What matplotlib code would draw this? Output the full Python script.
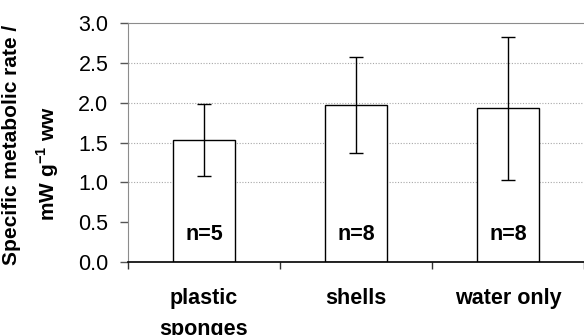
import numpy as np
import matplotlib.pyplot as plt

plt.rcParams['font.family'] = ['Liberation Sans', 'DejaVu Sans']
plt.rcParams['mathtext.fontset'] = 'custom'
plt.rcParams['mathtext.rm'] = 'Liberation Sans'
plt.rcParams['mathtext.bf'] = 'Liberation Sans:bold'

# data
categories = ["plastic\nsponges", "shells", "water only"]
rates = [1.53, 1.97, 1.93]
sd = [0.45, 0.60, 0.90]
n_labels = ["n=5", "n=8", "n=8"]
grid_levels = [1.0, 1.5, 2.0, 2.5]

fig = plt.figure(figsize=(5.84, 3.35), dpi=100)
ax = fig.add_axes([0.219, 0.218, 0.781, 0.713])

x = np.arange(len(categories))
for g in grid_levels:
    ax.axhline(g, color='#a8a8a8', lw=0.8, ls=(0, (1, 1.5)), zorder=0)

ax.bar(x, rates, width=0.41, color='white', edgecolor='black', lw=1.0, zorder=2)
ax.errorbar(x, rates, yerr=sd, fmt='none', ecolor='black', elinewidth=1.0,
            capsize=5, capthick=1.0, zorder=3)

for xi, lab in zip(x, n_labels):
    ax.text(xi, 0.34, lab, ha='center', va='center', fontsize=15.5,
            fontweight='bold', zorder=4)

ax.set_xlim(-0.5, 2.5)
ax.set_ylim(0, 3.0)
ax.set_yticks(np.arange(0, 3.01, 0.5))
ax.set_yticklabels([f"{v:.1f}" for v in np.arange(0, 3.01, 0.5)], fontsize=15.5)
ax.tick_params(axis='y', length=6, width=1, color='#555555', pad=8)

ax.set_xticks([-0.5, 0.5, 1.5, 2.5])
ax.set_xticklabels([])
ax.tick_params(axis='x', which='major', length=5, width=1, color='#333333')
ax.set_xticks(x, minor=True)
ax.set_xticklabels(categories, minor=True, fontsize=15.5, fontweight='bold',
                   linespacing=1.6)
ax.tick_params(axis='x', which='minor', length=0, pad=19)

ax.spines['left'].set_color('#8c8c8c')
ax.spines['top'].set_color('#8c8c8c')
ax.spines['right'].set_visible(False)
ax.spines['bottom'].set_color('black')
ax.spines['bottom'].set_linewidth(1.2)

# two-line y label, placed line by line as in the reference
fig.text(0.0205, 0.566, "Specific metabolic rate /", rotation=90, fontsize=15,
         fontweight='bold', ha='center', va='center')
fig.text(0.0815, 0.510, "mW g$^{\\mathbf{-1}}$ ww", rotation=90, fontsize=15,
         fontweight='bold', ha='center', va='center')

fig.savefig("out.png", dpi=100)
